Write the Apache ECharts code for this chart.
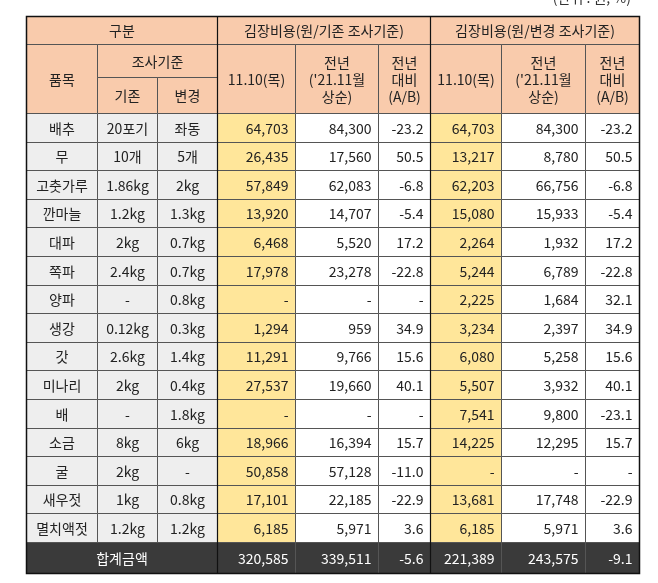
<!DOCTYPE html>
<html><head><meta charset="utf-8">
<script src="https://cdn.jsdelivr.net/npm/echarts@6/dist/echarts.min.js"></script>
<style>html,body{margin:0;padding:0;background:#fff}#c{width:658px;height:583px}</style>
</head><body><div id="c"></div>
<script>
// ---- data ----
const items = ['배추','무','고춧가루','깐마늘','대파','쪽파','양파','생강','갓','미나리','배','소금','굴','새우젓','멸치액젓'];
const baseQty = ['20포기','10개','1.86kg','1.2kg','2kg','2.4kg','-','0.12kg','2.6kg','2kg','-','8kg','2kg','1kg','1.2kg'];
const newQty = ['좌동','5개','2kg','1.3kg','0.7kg','0.7kg','0.8kg','0.3kg','1.4kg','0.4kg','1.8kg','6kg','-','0.8kg','1.2kg'];
const baseCur = [64703,26435,57849,13920,6468,17978,null,1294,11291,27537,null,18966,50858,17101,6185];
const basePrev = [84300,17560,62083,14707,5520,23278,null,959,9766,19660,null,16394,57128,22185,5971];
const baseChg = [-23.2,50.5,-6.8,-5.4,17.2,-22.8,null,34.9,15.6,40.1,null,15.7,-11.0,-22.9,3.6];
const newCur = [64703,13217,62203,15080,2264,5244,2225,3234,6080,5507,7541,14225,null,13681,6185];
const newPrev = [84300,8780,66756,15933,1932,6789,1684,2397,5258,3932,9800,12295,null,17748,5971];
const newChg = [-23.2,50.5,-6.8,-5.4,17.2,-22.8,32.1,34.9,15.6,40.1,-23.1,15.7,null,-22.9,3.6];
const totalLabel = '합계금액';
const totals = [320585,339511,-5.6,221389,243575,-9.1];
const unitText = '(단위 : 원, %)';
const headTop = ['구분','김장비용(원/기존 조사기준)','김장비용(원/변경 조사기준)'];
const headItem = '품목';
const headSurvey = '조사기준';
const headQty = ['기존','변경'];
const headCur = '11.10(목)';
const headPrev = '전년\n(\'21.11월\n상순)';
const headChg = '전년\n대비\n(A/B)';

// ---- layout ----
const colWidths = [71,60,60,78,83,52,71,84,54];
const rowHeights = [28,33,36].concat(items.map(() => 28.6)).concat([31]);
const colEdge = [0]; colWidths.forEach(w => colEdge.push(colEdge[colEdge.length-1] + w));
const rowEdge = [0]; rowHeights.forEach(h => rowEdge.push(rowEdge[rowEdge.length-1] + h));
const W = colEdge[colEdge.length-1], H = rowEdge[rowEdge.length-1];

const C = {
  head: '#F9CBAC', gray: '#EEEEEE', yellow: '#FFE69A', white: '#FFFFFF', dark: '#3A3A3A',
  text: '#222222', line: '#555555'
};

const fmtNum = v => v == null ? '-' : v.toLocaleString('en-US');
const fmtPct = v => v == null ? '-' : v.toFixed(1);

const cells = [];
function cell(c0, c1, r0, r1, text, fill, align, color) {
  cells.push({c0, c1, r0, r1, text, fill, align: align || 'center', color: color || C.text});
}
// header
cell(0,3,0,1,headTop[0],C.head);
cell(3,6,0,1,headTop[1],C.head);
cell(6,9,0,1,headTop[2],C.head);
cell(0,1,1,3,headItem,C.head);
cell(1,3,1,2,headSurvey,C.head);
cell(1,2,2,3,headQty[0],C.head);
cell(2,3,2,3,headQty[1],C.head);
[3,6].forEach(c => {
  cell(c,c+1,1,3,headCur,C.head);
  cell(c+1,c+2,1,3,headPrev,C.head);
  cell(c+2,c+3,1,3,headChg,C.head);
});
// body
items.forEach((name, i) => {
  const r = i + 3;
  cell(0,1,r,r+1,name,C.gray);
  cell(1,2,r,r+1,baseQty[i],C.gray);
  cell(2,3,r,r+1,newQty[i],C.gray);
  cell(3,4,r,r+1,fmtNum(baseCur[i]),C.yellow,'right');
  cell(4,5,r,r+1,fmtNum(basePrev[i]),C.white,'right');
  cell(5,6,r,r+1,fmtPct(baseChg[i]),C.white,'right');
  cell(6,7,r,r+1,fmtNum(newCur[i]),C.yellow,'right');
  cell(7,8,r,r+1,fmtNum(newPrev[i]),C.white,'right');
  cell(8,9,r,r+1,fmtPct(newChg[i]),C.white,'right');
});
// total
const rt = items.length + 3;
cell(0,3,rt,rt+1,totalLabel,C.dark,'center','#FFFFFF');
totals.forEach((v, k) => {
  const txt = (k % 3 === 2) ? fmtPct(v) : fmtNum(v);
  cell(3+k,4+k,rt,rt+1,txt,C.dark,'right','#FFFFFF');
});

const chart = echarts.init(document.getElementById('c'), null, {renderer: 'canvas'});
const R = v => Math.round(v) + 0.5;
chart.setOption({
  animation: false,
  backgroundColor: '#FFFFFF',
  graphic: [{
    type: 'text', right: 27, top: -9,
    style: {text: unitText, font: '14px "Noto Sans CJK KR"', fill: '#333'}
  }],
  grid: {left: 26, top: 16, width: 613, height: 557},
  xAxis: {type: 'value', min: 0, max: W, show: false},
  yAxis: {type: 'value', min: 0, max: H, inverse: true, show: false},
  series: [{
    type: 'custom',
    clip: false,
    data: cells.map((c, i) => [colEdge[c.c0], rowEdge[c.r0], i]),
    encode: {x: 0, y: 1},
    renderItem: (params, api) => {
      const c = cells[api.value(2)];
      const p0 = api.coord([colEdge[c.c0], rowEdge[c.r0]]);
      const p1 = api.coord([colEdge[c.c1], rowEdge[c.r1]]);
      const x0 = R(p0[0]), y0 = R(p0[1]), x1 = R(p1[0]), y1 = R(p1[1]);
      const tx = c.align === 'right' ? x1 - 7 : (x0 + x1) / 2;
      return {
        type: 'group',
        children: [{
          type: 'rect',
          shape: {x: x0, y: y0, width: x1 - x0, height: y1 - y0},
          style: {fill: c.fill, stroke: C.line, lineWidth: 1}
        }, {
          type: 'text',
          style: {
            text: c.text, x: tx, y: (y0 + y1) / 2 + 0.5,
            align: c.align, verticalAlign: 'middle',
            font: '14px "Noto Sans CJK KR"', lineHeight: 17, fill: c.color
          }
        }]
      };
    }
  }, {
    type: 'custom',
    clip: false,
    data: [[0, 0]],
    renderItem: (params, api) => {
      const p0 = api.coord([0, 0]);
      const p1 = api.coord([W, H]);
      const pa = api.coord([colEdge[3], 0]);
      const pb = api.coord([colEdge[6], 0]);
      return {
        type: 'group',
        children: [{
          type: 'rect',
          shape: {x: R(p0[0]), y: R(p0[1]), width: R(p1[0]) - R(p0[0]), height: R(p1[1]) - R(p0[1])},
          style: {fill: null, stroke: '#111', lineWidth: 1.5}
        }, {
          type: 'line',
          shape: {x1: R(pa[0]), y1: R(p0[1]), x2: R(pa[0]), y2: R(p1[1])},
          style: {stroke: '#111', lineWidth: 1.2}
        }, {
          type: 'line',
          shape: {x1: R(pb[0]), y1: R(p0[1]), x2: R(pb[0]), y2: R(p1[1])},
          style: {stroke: '#111', lineWidth: 1.2}
        }]
      };
    }
  }]
});
</script></body></html>
